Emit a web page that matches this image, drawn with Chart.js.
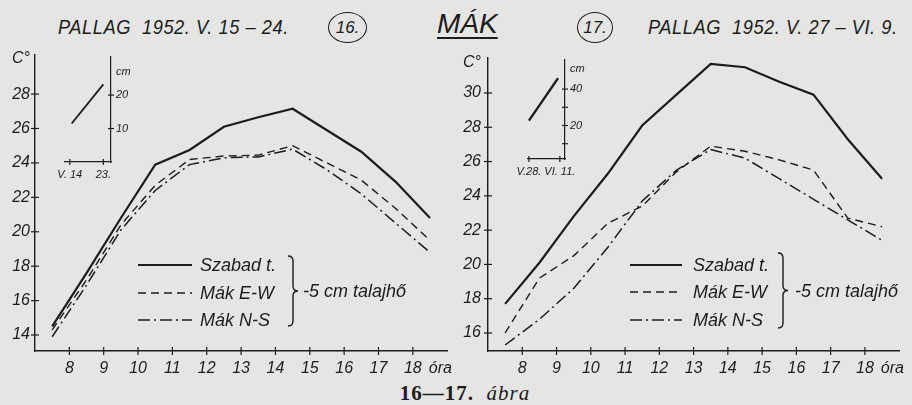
<!DOCTYPE html>
<html>
<head>
<meta charset="utf-8">
<script src="https://cdn.jsdelivr.net/npm/chart.js@4.4.1/dist/chart.umd.min.js"></script>
<style>
  body { margin: 0; width: 912px; height: 405px; overflow: hidden; position: relative; background: #e5e5e3; color: #1c1c1c; }
  .box { position: absolute; }
  .txt { position: absolute; font-family: 'Liberation Sans Narrow', 'Liberation Sans', sans-serif; font-style: italic; white-space: nowrap; }
  .ttl { font-size: 21px; letter-spacing: 0.6px; transform: scaleX(0.87); transform-origin: left top; }
  .ring { position: absolute; border: 1.5px solid #1c1c1c; border-radius: 50%; font-family: 'Liberation Sans Narrow', 'Liberation Sans', sans-serif; font-style: italic; font-size: 17px; text-align: center; box-sizing: border-box; }
  .cap { position: absolute; left: 0; width: 930px; top: 381px; text-align: center; font-family: 'Liberation Serif', serif; font-size: 21px; letter-spacing: 1px; }
</style>
</head>
<body>
<div class="txt ttl" style="left:58px;top:15px">PALLAG&nbsp; 1952. V. 15 – 24.</div>
<div class="ring" style="left:328px;top:12px;width:39px;height:31px;line-height:29px">16.</div>
<div class="txt" style="left:437px;top:8px;font-size:28px;text-decoration:underline;text-underline-offset:4px;text-decoration-thickness:2px">MÁK</div>
<div class="ring" style="left:577px;top:12px;width:36px;height:31px;line-height:29px">17.</div>
<div class="txt ttl" style="left:648px;top:15px">PALLAG&nbsp; 1952. V. 27 – VI. 9.</div>

<div class="box" style="left:0;top:40px;width:460px;height:340px"><canvas id="g16"></canvas></div>
<div class="box" style="left:452px;top:40px;width:460px;height:340px"><canvas id="g17"></canvas></div>
<div class="box" style="left:50px;top:45px;width:90px;height:140px"><canvas id="n16"></canvas></div>
<div class="box" style="left:510px;top:48px;width:90px;height:140px"><canvas id="n17"></canvas></div>

<div class="cap"><b>16—17.</b>&nbsp; <i>ábra</i></div>

<script>
// órák (fél órás mérési pontok)
const hours = [7.5, 8.5, 9.5, 10.5, 11.5, 12.5, 13.5, 14.5, 15.5, 16.5, 17.5, 18.5];
const hourTicks = [8, 9, 10, 11, 12, 13, 14, 15, 16, 17, 18];

// 16. ábra - Pallag 1952. V. 15-24.
const szabad16 = [14.5, 17.6, 20.8, 23.9, 24.75, 26.1, 26.65, 27.15, 25.9, 24.65, 22.9, 20.8];
const makEW16  = [14.3, 17.2, 20.4, 22.7, 24.2, 24.4, 24.45, 25.0, 24.0, 23.0, 21.35, 19.5];
const makNS16  = [13.9, 16.9, 20.1, 22.4, 23.9, 24.3, 24.35, 24.8, 23.6, 22.2, 20.5, 18.8];
const yTicks16 = [14, 16, 18, 20, 22, 24, 26, 28];

// 17. ábra - Pallag 1952. V. 27-VI. 9.
const szabad17 = [17.7, 20.1, 22.8, 25.3, 28.1, 29.9, 31.7, 31.5, 30.65, 29.9, 27.3, 25.0];
const makEW17  = [16.0, 19.2, 20.5, 22.4, 23.4, 25.4, 26.9, 26.6, 26.1, 25.5, 22.7, 22.2];
const makNS17  = [15.3, 16.8, 18.6, 21.0, 23.7, 25.5, 26.7, 26.2, 25.0, 23.8, 22.6, 21.4];
const yTicks17 = [16, 18, 20, 22, 24, 26, 28, 30];

// kis betétábrák: növénymagasság (cm)
const insetDays16 = [14.5, 23];
const insetCm16 = [11.5, 23.2];
const insetDayTicks16 = [14, 23];
const insetDayLabels16 = ['V. 14', '23.'];
const insetCmTicks16 = [10, 20];

const insetDays17 = [28, 41.2];
const insetCm17 = [22.7, 46];
const insetDayTicks17 = [28, 42];
const insetDayLabels17 = ['V.28.', 'VI. 11.'];
const insetCmTicks17 = [10, 20, 30, 40];
const insetCmLabeled17 = [20, 40];

const seriesLabels = ['Szabad t.', 'Mák E-W', 'Mák N-S'];
const noteText = '-5 cm talajhő';

const ink = '#1c1c1c';
const fam = "'Liberation Sans Narrow', 'Liberation Sans', sans-serif";

// kereszt alakú osztásjelek a tengelyeken
function crossTicks(spec) {
  return {
    id: 'crossTicks',
    afterDraw(chart) {
      const ctx = chart.ctx;
      ctx.save();
      ctx.strokeStyle = ink;
      ctx.lineWidth = 1.2;
      spec.forEach(a => {
        const scale = chart.scales[a.id];
        a.values.forEach(v => {
          const p = scale.getPixelForValue(v);
          ctx.beginPath();
          if (scale.isHorizontal()) {
            ctx.moveTo(p, scale.top - a.len);
            ctx.lineTo(p, scale.top + a.len);
          } else {
            const x = scale.position === 'right' ? scale.left : scale.right;
            ctx.moveTo(x - a.len, p);
            ctx.lineTo(x + a.len, p);
          }
          ctx.stroke();
        });
      });
      ctx.restore();
    }
  };
}

// jelmagyarázat kapcsos zárójellel
function legendBox(pos) {
  return {
    id: 'legendBox',
    afterDraw(chart) {
      const ctx = chart.ctx;
      ctx.save();
      chart.data.datasets.forEach((ds, i) => {
        const y = pos.rows[i];
        ctx.beginPath();
        ctx.strokeStyle = ink;
        ctx.lineWidth = ds.borderWidth;
        ctx.setLineDash(ds.borderDash || []);
        ctx.moveTo(pos.x0, y);
        ctx.lineTo(pos.x1, y);
        ctx.stroke();
        ctx.setLineDash([]);
        ctx.fillStyle = ink;
        ctx.font = 'italic 18px ' + fam;
        ctx.textBaseline = 'middle';
        ctx.fillText(ds.label, pos.textX, y + 1);
      });
      // kapcsos zárójel
      const bx = pos.braceX, t = pos.braceTop, b = pos.braceBottom, m = (t + b) / 2;
      ctx.beginPath();
      ctx.lineWidth = 1.4;
      ctx.moveTo(bx - 5, t);
      ctx.quadraticCurveTo(bx, t, bx, t + 5);
      ctx.lineTo(bx, m - 5);
      ctx.quadraticCurveTo(bx, m, bx + 5, m);
      ctx.quadraticCurveTo(bx, m, bx, m + 5);
      ctx.lineTo(bx, b - 5);
      ctx.quadraticCurveTo(bx, b, bx - 5, b);
      ctx.stroke();
      ctx.font = 'italic 18px ' + fam;
      ctx.fillText(noteText, pos.noteX, m + 1);
      ctx.restore();
    }
  };
}

function mainChart(id, s1, s2, s3, yTicks, yMin, yMax, unitPos, padTop, yWidth, yPad, legendPos) {
  const oraPos = 18.8;
  const ds = (label, data, width, dash) => ({
    label: label,
    data: hours.map((h, i) => ({ x: h, y: data[i] })),
    borderColor: ink,
    borderWidth: width,
    borderDash: dash,
    pointRadius: 0,
    tension: 0,
    fill: false
  });
  return new Chart(document.getElementById(id), {
    type: 'line',
    data: {
      datasets: [
        ds(seriesLabels[0], s1, 2.2, []),
        ds(seriesLabels[1], s2, 1.4, [8, 5]),
        ds(seriesLabels[2], s3, 1.5, [12, 4, 2, 4])
      ]
    },
    options: {
      responsive: true,
      maintainAspectRatio: false,
      animation: false,
      layout: { padding: { top: padTop, right: 7, left: 0, bottom: 0 } },
      plugins: { legend: { display: false }, tooltip: { enabled: false } },
      scales: {
        x: {
          type: 'linear', min: 7, max: 19,
          afterBuildTicks: s => { s.ticks = hourTicks.concat([oraPos]).map(v => ({ value: v })); },
          afterFit: s => { s.height = 29; },
          grid: { display: false, drawTicks: false },
          border: { display: true, color: ink, width: 1.4 },
          ticks: {
            color: ink, padding: 8, autoSkip: false, maxRotation: 0,
            font: { family: fam, size: 16, style: 'italic' },
            callback: v => v === oraPos ? 'óra' : String(v)
          }
        },
        y: {
          type: 'linear', min: yMin, max: yMax,
          afterBuildTicks: s => { s.ticks = yTicks.concat([unitPos]).map(v => ({ value: v })); },
          afterFit: s => { s.width = yWidth; },
          grid: { display: false, drawTicks: false },
          border: { display: true, color: ink, width: 1.4 },
          ticks: {
            color: ink, padding: yPad, autoSkip: false,
            font: { family: fam, size: 16, style: 'italic' },
            callback: v => v === unitPos ? 'C°' : String(v)
          }
        }
      }
    },
    plugins: [
      crossTicks([{ id: 'x', values: hourTicks, len: 4 }, { id: 'y', values: yTicks, len: 4 }]),
      legendBox(legendPos)
    ]
  });
}

function insetChart(id, days, cm, xMin, xMax, dayTicks, dayLabels, yMin, yMax, cmTicks, cmLabeled, unitPos, pad, yWidth, xHeight, lineW) {
  return new Chart(document.getElementById(id), {
    type: 'line',
    data: {
      datasets: [{
        data: days.map((d, i) => ({ x: d, y: cm[i] })),
        borderColor: ink, borderWidth: lineW, pointRadius: 0, fill: false
      }]
    },
    options: {
      responsive: true,
      maintainAspectRatio: false,
      animation: false,
      layout: { padding: pad },
      plugins: { legend: { display: false }, tooltip: { enabled: false } },
      scales: {
        x: {
          type: 'linear', min: xMin, max: xMax,
          afterBuildTicks: s => { s.ticks = dayTicks.map(v => ({ value: v })); },
          afterFit: s => { s.height = xHeight; },
          grid: { display: false, drawTicks: false },
          border: { display: true, color: ink, width: 1.2 },
          ticks: {
            color: ink, padding: 6, autoSkip: false, maxRotation: 0,
            font: { family: fam, size: 11, style: 'italic' },
            callback: (v, i) => dayLabels[i]
          }
        },
        y: {
          type: 'linear', position: 'right', min: yMin, max: yMax,
          afterBuildTicks: s => { s.ticks = cmTicks.concat([unitPos]).map(v => ({ value: v })); },
          afterFit: s => { s.width = yWidth; },
          grid: { display: false, drawTicks: false },
          border: { display: true, color: ink, width: 1.2 },
          ticks: {
            color: ink, padding: 5, autoSkip: false,
            font: { family: fam, size: 11, style: 'italic' },
            callback: v => v === unitPos ? 'cm' : (cmLabeled.includes(v) ? String(v) : '')
          }
        }
      }
    },
    plugins: [crossTicks([{ id: 'x', values: dayTicks, len: 3 }, { id: 'y', values: cmTicks, len: 3 }])]
  });
}

mainChart('g16', szabad16, makEW16, makNS16, yTicks16, 13.07, 30.27, 30.05, 15, 35, 5,
  { x0: 138, x1: 192, textX: 200, rows: [225, 253, 280], braceX: 293, braceTop: 216, braceBottom: 286, noteX: 303 });
mainChart('g17', szabad17, makEW17, makNS17, yTicks17, 14.95, 32.04, 31.8, 18, 36, 7,
  { x0: 178, x1: 230, textX: 241, rows: [225, 252, 280], braceX: 331, braceTop: 213, braceBottom: 288, noteX: 343 });

insetChart('n16', insetDays16, insetCm16, 12.71, 25.06, insetDayTicks16, insetDayLabels16,
  0, 31.5, insetCmTicks16, insetCmTicks16, 26.8, { left: 13, top: 10, right: 0, bottom: 0 }, 29, 23, 1.8);
insetChart('n17', insetDays17, insetCm17, 27.2, 44.33, insetDayTicks17, insetDayLabels17,
  1.6, 56.2, insetCmTicks17, insetCmLabeled17, 50.8, { left: 11, top: 10, right: 0, bottom: 0 }, 35, 29, 2.4);
</script>
</body>
</html>
